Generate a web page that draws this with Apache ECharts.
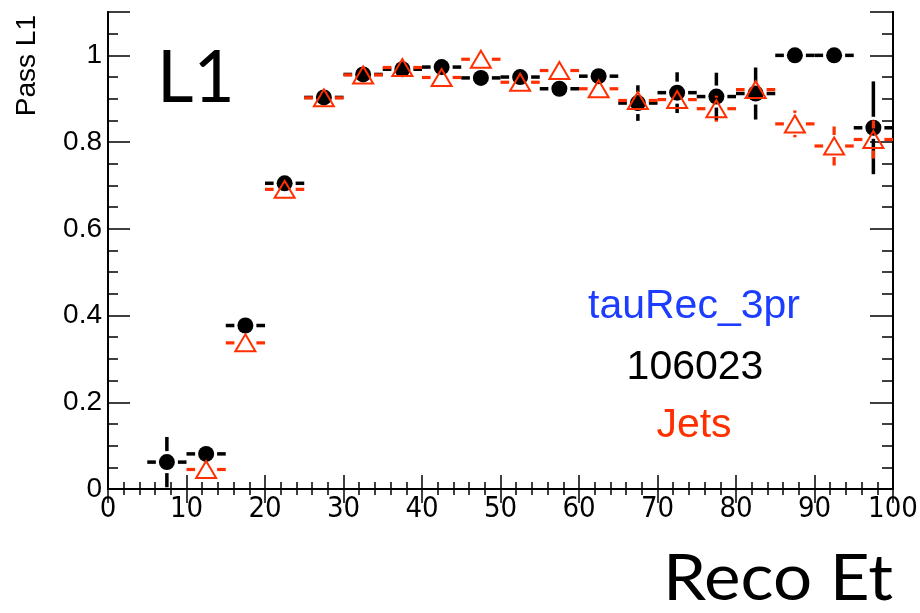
<!DOCTYPE html>
<html>
<head>
<meta charset="utf-8">
<script src="https://cdn.jsdelivr.net/npm/echarts@6/dist/echarts.min.js"></script>
<style>
  html, body { margin: 0; padding: 0; background: #fff; }
  #chart { width: 920px; height: 613px; }
</style>
</head>
<body>
<div id="chart"></div>
<script>
// Reconstructed Et bins (GeV), 5 GeV wide
const binCenters = [7.5, 12.5, 17.5, 22.5, 27.5, 32.5, 37.5, 42.5, 47.5, 52.5,
                    57.5, 62.5, 67.5, 72.5, 77.5, 82.5, 87.5, 92.5, 97.5];
const binHalfWidth = 2.5;

// L1 pass fraction, sample 106023 (black circles)
const sigEff = [0.062, 0.081, 0.377, 0.705, 0.903, 0.956, 0.968, 0.973, 0.948, 0.950,
                0.923, 0.952, 0.890, 0.914, 0.905, 0.912, 1.000, 1.000, 0.833];
const sigErr = [0.058, 0.020, 0.020, 0.015, 0.010, 0.008, 0.008, 0.008, 0.010, 0.012,
                0.015, 0.020, 0.041, 0.047, 0.055, 0.060, 0.000, 0.000, 0.107];

// L1 pass fraction, jets (open red triangles)
const jetEff = [null, 0.045, 0.337, 0.691, 0.902, 0.955, 0.972, 0.949, 0.991, 0.938,
                0.965, 0.923, 0.896, 0.898, 0.877, 0.921, 0.842, 0.791, 0.806];
const jetErr = [null, 0.015, 0.015, 0.010, 0.010, 0.010, 0.010, 0.010, 0.010, 0.010,
                0.012, 0.015, 0.020, 0.022, 0.030, 0.025, 0.031, 0.045, 0.044];

const xRange = [0, 100];
const yRange = [0, 1.1];

const RED = '#ff2f00';
const BLUE = '#1c3cff';
const BLACK = '#000000';

function toPoints(eff, err) {
  const pts = [];
  binCenters.forEach((x, i) => {
    if (eff[i] !== null) pts.push([x, eff[i], err[i]]);
  });
  return pts;
}

// Error bars with a gap around the marker, then the marker itself
function makeRenderer(color, lineWidth, marker) {
  const gap = 11;
  return function (params, api) {
    const x = api.value(0), y = api.value(1), e = api.value(2);
    const c = api.coord([x, y]);
    const xl = api.coord([x - binHalfWidth, y])[0];
    const xr = api.coord([x + binHalfWidth, y])[0];
    const yt = api.coord([x, y + e])[1];
    const yb = api.coord([x, y - e])[1];
    const children = [];
    const seg = (x1, y1, x2, y2) => children.push({
      type: 'line', shape: { x1, y1, x2, y2 },
      style: { stroke: color, lineWidth: lineWidth }
    });
    if (c[0] - xl > gap) seg(xl, c[1], c[0] - gap, c[1]);
    if (xr - c[0] > gap) seg(c[0] + gap, c[1], xr, c[1]);
    if (c[1] - yt > gap) seg(c[0], yt, c[0], c[1] - gap);
    if (yb - c[1] > gap) seg(c[0], c[1] + gap, c[0], yb);
    if (marker === 'circle') {
      children.push({ type: 'circle', shape: { cx: c[0], cy: c[1], r: 8 },
        style: { fill: color } });
    } else {
      children.push({ type: 'polygon',
        shape: { points: [[c[0], c[1] - 8.5], [c[0] + 10, c[1] + 8.5], [c[0] - 10, c[1] + 8.5]] },
        style: { fill: 'none', stroke: color, lineWidth: 2 } });
    }
    return { type: 'group', children };
  };
}

const frameLine = { show: true, lineStyle: { color: BLACK, width: 2 } };
const tickStyle = { color: BLACK, width: 1.5 };

function yAxisDef(position, interval, tickLen, showLabel) {
  return {
    type: 'value', position, min: yRange[0], max: yRange[1], interval,
    axisLine: frameLine,
    axisTick: { show: true, inside: true, length: tickLen, lineStyle: tickStyle },
    splitLine: { show: false },
    axisLabel: showLabel ? {
      show: true, margin: 6, color: BLACK, fontSize: 28,
      fontFamily: 'Liberation Sans, Arial, sans-serif',
      formatter: v => (v > 1.05 ? '' : String(+v.toFixed(1)))
    } : { show: false }
  };
}

const chart = echarts.init(document.getElementById('chart'), null, { renderer: 'canvas' });
chart.setOption({
  animation: false,
  backgroundColor: '#ffffff',
  grid: { left: 108, right: 27, top: 12, bottom: 124, containLabel: false, outerBoundsMode: 'none' },
  xAxis: [
    {
      type: 'value', position: 'bottom', min: xRange[0], max: xRange[1], interval: 10,
      axisLine: frameLine,
      axisTick: { show: true, inside: true, length: 14, lineStyle: tickStyle },
      minorTick: { show: true, splitNumber: 5, length: 7, lineStyle: tickStyle },
      splitLine: { show: false },
      axisLabel: {
        show: true, margin: 6, color: BLACK, fontSize: 29,
        showMinLabel: true, showMaxLabel: true,
        fontFamily: '"Liberation Sans Narrow", "DejaVu Sans Condensed", "Liberation Sans", sans-serif'
      }
    },
    {
      type: 'value', position: 'top', min: xRange[0], max: xRange[1], interval: 10,
      axisLine: frameLine,
      axisTick: { show: true, inside: true, length: 14, lineStyle: tickStyle },
      minorTick: { show: true, splitNumber: 5, length: 6, lineStyle: tickStyle },
      splitLine: { show: false },
      axisLabel: { show: false }
    }
  ],
  yAxis: [
    yAxisDef('left', 0.2, 22, true),
    yAxisDef('left', 0.05, 10, false),
    yAxisDef('right', 0.2, 23, false),
    yAxisDef('right', 0.05, 11, false)
  ],
  series: [
    {
      name: '106023', type: 'custom', xAxisIndex: 0, yAxisIndex: 0, clip: true,
      renderItem: makeRenderer(BLACK, 3.5, 'circle'),
      encode: { x: 0, y: 1 },
      data: toPoints(sigEff, sigErr), z: 2
    },
    {
      name: 'Jets', type: 'custom', xAxisIndex: 0, yAxisIndex: 0, clip: true,
      renderItem: makeRenderer(RED, 3.2, 'triangle'),
      encode: { x: 0, y: 1 },
      data: toPoints(jetEff, jetErr), z: 3
    }
  ],
  graphic: [
    { type: 'text', x: 157, y: 115, z: 10,
      style: { text: 'L1', fill: BLACK, font: '71px Lato, "Open Sans", sans-serif',
               textAlign: 'left', textVerticalAlign: 'bottom' } },
    { type: 'text', x: 41, y: 15, rotation: Math.PI / 2, z: 10,
      style: { text: 'Pass L1', fill: BLACK, font: '28px "Liberation Sans", Arial, sans-serif',
               textAlign: 'right', textVerticalAlign: 'bottom' } },
    { type: 'text', x: 694, y: 327, z: 10,
      style: { text: 'tauRec_3pr', fill: BLUE, font: '41px "Liberation Sans", Arial, sans-serif',
               textAlign: 'center', textVerticalAlign: 'bottom' } },
    { type: 'text', x: 695, y: 388, z: 10,
      style: { text: '106023', fill: BLACK, font: '41px "Liberation Sans", Arial, sans-serif',
               textAlign: 'center', textVerticalAlign: 'bottom' } },
    { type: 'text', x: 694, y: 446, z: 10,
      style: { text: 'Jets', fill: RED, font: '41px "Liberation Sans", Arial, sans-serif',
               textAlign: 'center', textVerticalAlign: 'bottom' } },
    { type: 'text', x: 893, y: 611, scaleX: 1.08, z: 10,
      style: { text: 'Reco Et', fill: BLACK, font: '64px Lato, "Open Sans", sans-serif',
               textAlign: 'right', textVerticalAlign: 'bottom' } }
  ]
});
</script>
</body>
</html>
